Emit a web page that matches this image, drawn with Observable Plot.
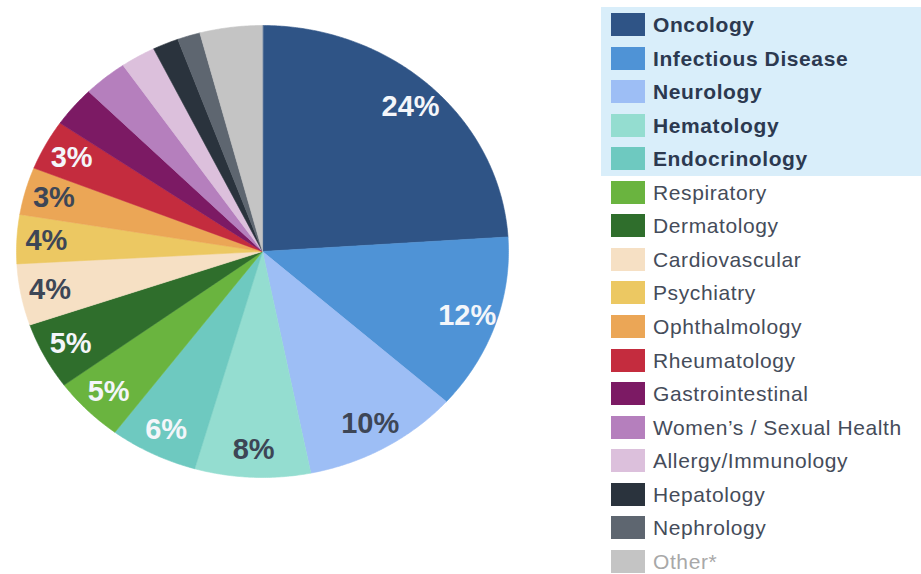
<!DOCTYPE html>
<html><head><meta charset="utf-8">
<script src="https://cdn.jsdelivr.net/npm/d3@7"></script>
<script src="https://cdn.jsdelivr.net/npm/@observablehq/plot@0.6"></script>
<style>
body{margin:0;background:#fff;font-family:"Liberation Sans",Arial,sans-serif;}
#wrap{position:relative;width:921px;height:574px;overflow:hidden;background:#fff;}
#chart{position:absolute;left:0;top:0;}
#hl{position:absolute;left:601px;top:7px;width:320px;height:169px;background:#d9eefa;}
.row{position:absolute;left:611px;height:23px;display:flex;align-items:center;white-space:nowrap;}
.sw{width:34px;height:23px;margin-right:8px;flex:none;}
.lab{font-size:21px;letter-spacing:0.6px;color:#454c5a;line-height:23px;}
.lab.b{font-weight:bold;color:#2c3950;}
.lab.o{color:#a8a8a8;}
</style></head><body><div id="wrap"><div id="chart"></div><div id="hl"></div></div>
<script>
const categories = ["Oncology","Infectious Disease","Neurology","Hematology","Endocrinology","Respiratory","Dermatology","Cardiovascular","Psychiatry","Ophthalmology","Rheumatology","Gastrointestinal","Women\u2019s / Sexual Health","Allergy/Immunology","Hepatology","Nephrology","Other*"];
const shares = [24, 12.6, 10.3, 7.6, 5.8, 4.7, 4.8, 4.4, 3.5, 3.4, 3.6, 2.9, 2.9, 2.3, 1.7, 1.5, 4.1];
const pctLabels = ["24%","12%","10%","8%","6%","5%","5%","4%","4%","3%","3%","","","","","",""];
const colors = ["#2f5486","#4f93d6","#9dbef5","#94ddd0","#6ec9c0","#6ab43f","#2f6e2c","#f6e0c4","#ecc862","#eba656","#c42c3e","#7c1a64","#b57fbd","#dcc0dc","#2a333d","#5e6670","#c4c4c4"];
const highlighted = ["Oncology","Infectious Disease","Neurology","Hematology","Endocrinology"];
const darkLabelCats = ["Neurology","Hematology","Cardiovascular","Psychiatry","Ophthalmology"];

const rows = categories.map((name, i) => ({name, share: shares[i], label: pctLabels[i]}));
const arcs = d3.pie().sort(null).value(d => d.share)(rows);
const step = Math.PI / 360;
const pts = arcs.flatMap(p => {
  const name = p.data.name;
  const out = [{name, x: 0, y: 0}];
  const n = Math.max(2, Math.ceil((p.endAngle - p.startAngle) / step));
  for (let i = 0; i <= n; i++) {
    const a = p.startAngle + (p.endAngle - p.startAngle) * i / n;
    out.push({name, x: Math.sin(a), y: Math.cos(a)});
  }
  return out;
});
const labelR = 0.88;
const labels = arcs.filter(p => p.data.label).map(p => {
  const a = (p.startAngle + p.endAngle) / 2;
  return {name: p.data.name, text: p.data.label, x: labelR * Math.sin(a), y: labelR * Math.cos(a)};
});
const textOpts = {x: "x", y: "y", text: "text", fontSize: 29, fontWeight: "bold", fontFamily: "Liberation Sans, Arial, sans-serif"};

const chart = Plot.plot({
  width: 560, height: 574,
  marginLeft: 16, marginRight: 52, marginTop: 25, marginBottom: 97,
  x: {domain: [-1, 1], axis: null},
  y: {domain: [-1, 1], axis: null},
  color: {domain: categories, range: colors},
  marks: [
    Plot.line(pts, {x: "x", y: "y", z: "name", fill: "name", stroke: "name", strokeWidth: 0.6, curve: "linear-closed"}),
    Plot.text(labels.filter(d => !darkLabelCats.includes(d.name)), {...textOpts, fill: "#f4f6fa"}),
    Plot.text(labels.filter(d => darkLabelCats.includes(d.name)), {...textOpts, fill: "#3d4656"})
  ]
});
document.getElementById("chart").appendChild(chart);

const wrap = document.getElementById("wrap");
categories.forEach((name, i) => {
  const row = document.createElement("div");
  row.className = "row";
  row.style.top = (13 + i * 33.56) + "px";
  const sw = document.createElement("div");
  sw.className = "sw";
  sw.style.background = colors[i];
  const lab = document.createElement("div");
  lab.className = "lab" + (highlighted.includes(name) ? " b" : "") + (name === "Other*" ? " o" : "");
  lab.textContent = name;
  row.appendChild(sw); row.appendChild(lab);
  wrap.appendChild(row);
});
</script></body></html>
